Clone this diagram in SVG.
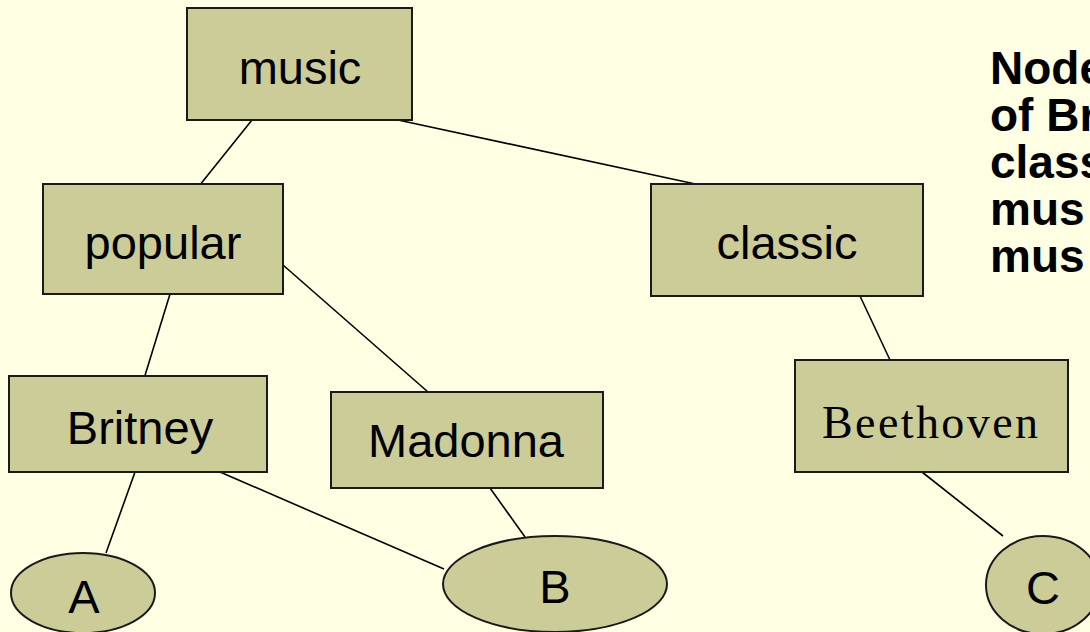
<svg xmlns="http://www.w3.org/2000/svg" width="1090" height="632" viewBox="0 0 1090 632">
  <style>
    .box { fill: #CCCC99; stroke: #1a1a1a; stroke-width: 2; }
    .edge { stroke: #000; stroke-width: 1.6; fill: none; }
    .lbl { font-family: "Liberation Sans", Arial, sans-serif; font-size: 47px; fill: #000; text-anchor: middle; }
    .side { font-family: "Liberation Sans", Arial, sans-serif; font-size: 46px; font-weight: bold; fill: #000; }
  </style>
  <rect x="0" y="0" width="1090" height="632" fill="#FFFFE3"/>

  <!-- tree edges -->
  <g id="connectors">
    <line class="edge" x1="252" y1="120" x2="187" y2="201"/>
    <line class="edge" x1="398" y1="120" x2="700" y2="185"/>
    <line class="edge" x1="170" y1="294" x2="139" y2="395"/>
    <line class="edge" x1="283" y1="265" x2="428" y2="392"/>
    <line class="edge" x1="860" y1="296" x2="890" y2="360"/>
    <line class="edge" x1="135" y1="472" x2="106" y2="553"/>
    <line class="edge" x1="220" y1="472" x2="444" y2="569"/>
    <line class="edge" x1="490" y1="488" x2="525" y2="537"/>
    <line class="edge" x1="922" y1="472" x2="1003" y2="536"/>
  </g>

  <g id="music">
    <rect class="box" x="187" y="8" width="225" height="112"/>
    <text class="lbl" x="300" y="84">music</text>
  </g>
  <g id="popular">
    <rect class="box" x="43" y="184" width="240" height="110"/>
    <text class="lbl" x="163" y="259">popular</text>
  </g>
  <g id="classic">
    <rect class="box" x="651" y="184" width="272" height="112"/>
    <text class="lbl" x="787" y="259">classic</text>
  </g>
  <g id="britney">
    <rect class="box" x="9" y="376" width="258" height="96"/>
    <text class="lbl" x="140" y="444">Britney</text>
  </g>
  <g id="madonna">
    <rect class="box" x="331" y="392" width="272" height="96"/>
    <text class="lbl" x="466" y="457">Madonna</text>
  </g>
  <g id="beethoven">
    <rect class="box" x="795" y="360" width="273" height="112"/>
    <text x="930" y="438" text-anchor="middle" font-family="'Liberation Serif', 'DejaVu Serif', serif" font-size="46" textLength="216" lengthAdjust="spacing" fill="#000">Beethoven</text>
  </g>
  <g id="A">
    <ellipse class="box" cx="83" cy="593" rx="72" ry="40"/>
    <text class="lbl" x="84" y="613">A</text>
  </g>
  <g id="B">
    <ellipse class="box" cx="555" cy="584" rx="112" ry="48"/>
    <text class="lbl" x="555" y="603">B</text>
  </g>
  <g id="C">
    <ellipse class="box" cx="1043" cy="585" rx="57" ry="49"/>
    <text class="lbl" x="1043" y="604">C</text>
  </g>

  <!-- side note, clipped by the right edge -->
  <g id="note">
    <text class="side" x="990" y="84">Node</text>
    <text class="side" x="990" y="131">of Br</text>
    <text class="side" x="990" y="178">class</text>
    <text class="side" x="990" y="225">mus</text>
    <text class="side" x="990" y="272">mus</text>
  </g>
</svg>
